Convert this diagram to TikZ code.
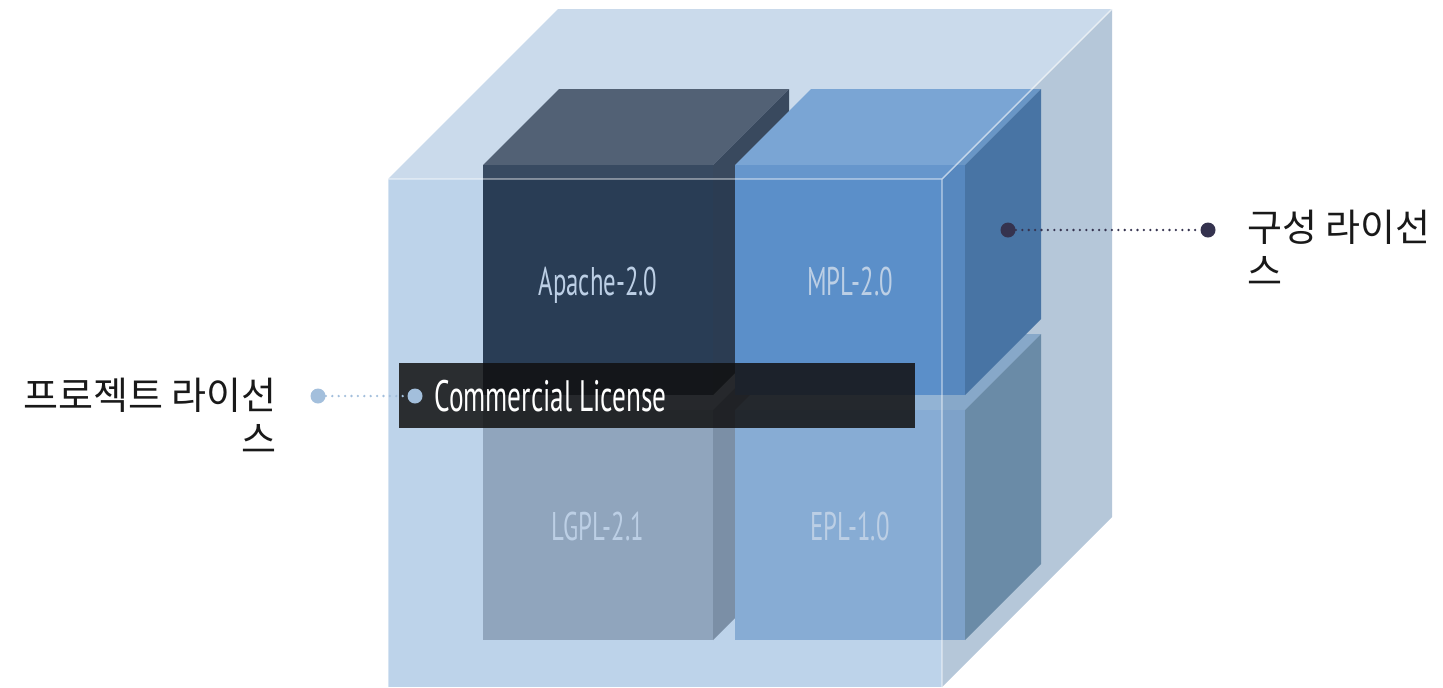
\documentclass[tikz,border=0pt]{standalone}
\usepackage{fontspec}
\newfontfamily\hangul{Noto Sans CJK KR}
\newfontfamily\agency[FakeStretch=0.62]{PT Sans}
\definecolor{glasstop}{HTML}{C6D8EA}
\definecolor{glassright}{HTML}{C6D7E7}
\definecolor{glassfront}{HTML}{BDD3EA}
\definecolor{glassshade}{HTML}{3D5A7A}
\definecolor{apF}{HTML}{293D55}
\definecolor{apT}{HTML}{45556B}
\definecolor{apS}{HTML}{2B3C52}
\definecolor{mpF}{HTML}{5B8FC9}
\definecolor{mpT}{HTML}{709FD1}
\definecolor{mpS}{HTML}{4A78AA}
\definecolor{lgF}{HTML}{90A5BD}
\definecolor{lgT}{HTML}{A3B6CC}
\definecolor{lgS}{HTML}{7B8FA6}
\definecolor{epF}{HTML}{87ACD4}
\definecolor{epT}{HTML}{92B3D4}
\definecolor{epS}{HTML}{7192AE}
\definecolor{cubetext}{HTML}{BCCFE5}
\definecolor{commbox}{HTML}{111010}
\definecolor{dotlight}{HTML}{A3BFDC}
\definecolor{dotdark}{HTML}{35334F}
\tikzset{
  licdot/.style={circle, inner sep=0pt, minimum size=7.5pt},
  dotlink/.style={line width=1.3pt, dash pattern=on 0pt off 3.2pt, line cap=round},
  cubelabel/.style={font=\agency\fontsize{20}{24}\selectfont, text=cubetext, inner sep=0pt},
  sidelabel/.style={font=\hangul\fontsize{19}{22}\selectfont, text=black!90, inner sep=0pt},
}
\begin{document}
\begin{tikzpicture}[x=0.5pt, y=-0.5pt, line join=round]
	\useasboundingbox (0,0) rectangle (1443,687);
	\clip (0,0) rectangle (1443,687);
	\def\cw{230} % front side of a small cube
	\def\cd{76} % depth of a small cube
	\def\gd{170} % depth of the glass box
	% glass box
	\fill[glasstop] (388,179) -- ++(\gd,-\gd) -- (1112,9) -- (942,179) -- cycle;
	\fill[glassright] (942,179) -- (1112,9) -- (1112,517) -- (942,687) -- cycle;
	\fill[glassfront] (388,179) rectangle (942,687);
	% license cubes
	\foreach \cx/\cy/\cf/\ct/\cs/\nm/\txt in {483/410/lgF/lgT/lgS/lgpl/LGPL-2.1, 735/410/epF/epT/epS/epl/EPL-1.0, 483/165/apF/apT/apS/apache/Apache-2.0, 735/165/mpF/mpT/mpS/mpl/MPL-2.0}{
		\fill[\ct] (\cx,\cy) -- ++(\cd,-\cd) -- ++(\cw,0) -- ++(-\cd,\cd) -- cycle;
		\fill[\cs] (\cx+\cw,\cy) -- ++(\cd,-\cd) -- ++(0,\cw) -- ++(-\cd,\cd) -- cycle;
		\fill[\cf] (\cx,\cy) rectangle ++(\cw,\cw);
		\node[cubelabel, anchor=base] (\nm) at (\cx+115,\cy+130) {\txt};
	}
	% glass in front
	\fill[white, fill opacity=0.07] (388,179) -- (558,9) -- (1112,9) -- (942,179) -- cycle;
	\fill[glassshade, fill opacity=0.12] (942,179) -- (1112,9) -- (1112,517) -- (942,687) -- cycle;
	\draw[white, opacity=0.6, line width=0.7pt] (388,687) -- (388,179) -- (942,179) -- (942,687) (942,179) -- (1112,9);
	% commercial license
	\fill[commbox, fill opacity=0.85] (399,363) rectangle (915,428);
	\node[licdot, fill=dotlight] (commdot) at (415,396) {};
	\node[anchor=base west, inner sep=0pt, text=white, font=\agency\fontsize{22}{26}\selectfont] (comm) at (434,411) {Commercial License};
	\node[licdot, fill=dotlight] (projdot) at (318,396) {};
	\draw[dotlink, dotlight] (projdot) -- (commdot);
	\node[sidelabel, anchor=north east, align=right] (proj) at (277,378) {프로젝트 라이선\\스};
	% component license
	\node[licdot, fill=dotdark] (cfgdot) at (1008,230) {};
	\node[licdot, fill=dotdark] (cfgend) at (1208,230) {};
	\draw[dotlink, dotdark] (cfgdot) -- (cfgend);
	\node[sidelabel, anchor=north west, align=left] (cfg) at (1247,210) {구성 라이선\\스};
\end{tikzpicture}
\end{document}
